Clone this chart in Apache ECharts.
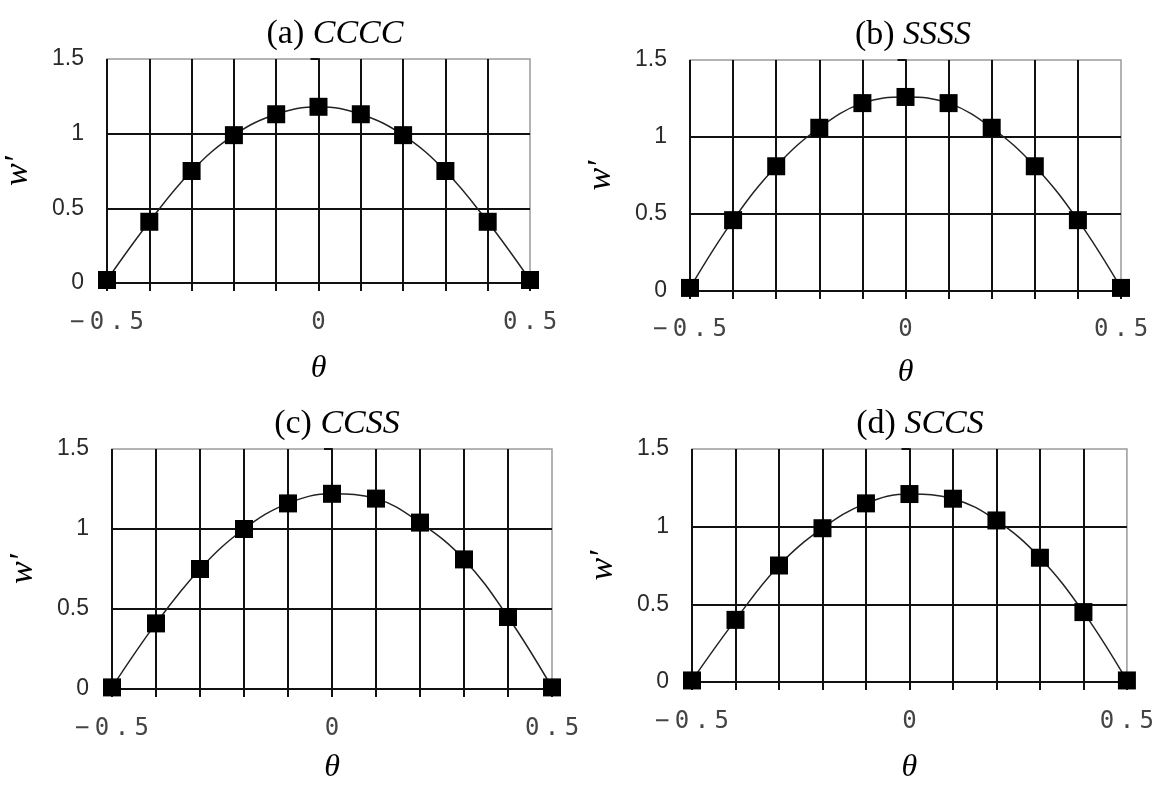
<!DOCTYPE html>
<html>
<head>
<meta charset="utf-8">
<title>w′ versus θ for four boundary conditions</title>
<script src="https://cdn.jsdelivr.net/npm/echarts@6/dist/echarts.min.js"></script>
<style>
  html, body { margin: 0; padding: 0; background: #ffffff; }
  #chart { width: 1157px; height: 785px; }
</style>
</head>
<body>
<div id="chart"></div>
<script>
// Sample positions θ shared by all four panels
const theta = [-0.5, -0.4, -0.3, -0.2, -0.1, 0, 0.1, 0.2, 0.3, 0.4, 0.5];

// w′ at each θ, one list per boundary-condition case
const wCCCC = [0.02, 0.41, 0.75, 0.99, 1.13, 1.18, 1.13, 0.99, 0.75, 0.41, 0.02];
const wSSSS = [0.02, 0.46, 0.81, 1.06, 1.22, 1.26, 1.22, 1.06, 0.81, 0.46, 0.02];
const wCCSS = [0.01, 0.41, 0.75, 1.00, 1.16, 1.22, 1.19, 1.04, 0.81, 0.45, 0.01];
const wSCCS = [0.01, 0.40, 0.75, 0.99, 1.15, 1.21, 1.18, 1.04, 0.80, 0.45, 0.01];

// Panel captions
const panelTags = ['(a)', '(b)', '(c)', '(d)'];
const panelCodes = ['CCCC', 'SSSS', 'CCSS', 'SCCS'];
const panelValues = [wCCCC, wSSSS, wCCSS, wSCCS];

// Which θ ticks carry a label
const xLabelValues = [-0.5, 0, 0.5];

// Plot rectangles, caption centre x and axis-name gaps for each panel
const layout = [
  { left: 107, top: 59, width: 423, height: 224, titleX: 330, thetaGap: 70, labelGap: 28 },
  { left: 690, top: 60, width: 431, height: 231, titleX: 908, thetaGap: 66, labelGap: 27 },
  { left: 112, top: 449, width: 440, height: 241, titleX: 332, thetaGap: 63, labelGap: 28 },
  { left: 692, top: 449, width: 444, height: 236, titleX: 915, thetaGap: 70, labelGap: 28 }
];

const INK = '#111111';

function xLabel(v) {
  const hit = xLabelValues.find(t => Math.abs(t - v) < 1e-9);
  if (hit === undefined) return '';
  const s = (hit < 0 ? '\u2212' : '') + String(Math.abs(hit));
  // spread the characters like a typewriter-style label
  return s.split('').map(ch => '{d|' + ch + '}').join('{g| }');
}

const grids = [], xAxes = [], yAxes = [], series = [], titles = [];

layout.forEach((p, i) => {
  grids.push({
    left: p.left, top: p.top, width: p.width, height: p.height,
    show: true, borderColor: '#9a9a9a', borderWidth: 1.5,
    backgroundColor: 'transparent'
  });

  xAxes.push({
    gridIndex: i, type: 'value', min: -0.5, max: 0.5, interval: 0.1,
    name: 'θ', nameLocation: 'middle', nameGap: p.thetaGap,
    nameTextStyle: { fontFamily: 'Liberation Serif', fontStyle: 'italic', fontSize: 32, color: '#000' },
    axisLine: { show: true, onZero: false, lineStyle: { color: INK, width: 2 } },
    axisTick: { show: true, length: 8, lineStyle: { color: INK, width: 2 } },
    splitLine: { show: true, showMaxLine: false, lineStyle: { color: INK, width: 2 } },
    axisLabel: {
      margin: p.labelGap, formatter: xLabel, showMinLabel: true, showMaxLabel: true,
      rich: {
        d: { fontFamily: 'DejaVu Sans Mono', fontSize: 24, color: '#444' },
        g: { fontFamily: 'DejaVu Sans Mono', fontSize: 9 }
      }
    }
  });

  yAxes.push({
    gridIndex: i, type: 'value', min: 0, max: 1.5, interval: 0.5,
    name: 'w\u2032', nameLocation: 'middle', nameGap: 72,
    nameTextStyle: { fontFamily: 'Liberation Serif', fontStyle: 'italic', fontSize: 34, color: '#000' },
    axisLine: { show: true, lineStyle: { color: INK, width: 2 } },
    axisTick: { show: true, length: 8, lineStyle: { color: INK, width: 2 } },
    splitLine: { show: true, showMaxLine: false, lineStyle: { color: INK, width: 2 } },
    axisLabel: { margin: 23, fontFamily: 'Liberation Sans', fontSize: 23, color: '#2a2a2a' }
  });

  series.push({
    type: 'line', xAxisIndex: i, yAxisIndex: i,
    data: theta.map((t, k) => [t, panelValues[i][k]]),
    smooth: 0.4, clip: false,
    symbol: 'rect', symbolSize: 18, showAllSymbol: true,
    itemStyle: { color: '#000' },
    lineStyle: { color: '#222', width: 1.5 },
    z: 3
  });

  titles.push({
    text: '{t|' + panelTags[i] + '} {c|' + panelCodes[i] + '}',
    left: p.titleX, top: p.top - 47, textAlign: 'center',
    textStyle: {
      fontFamily: 'Liberation Serif', fontSize: 34, fontWeight: 'normal', color: '#000',
      rich: {
        t: { fontFamily: 'Liberation Serif', fontSize: 34, color: '#000' },
        c: { fontFamily: 'Liberation Serif', fontStyle: 'italic', fontSize: 34, color: '#000' }
      }
    }
  });
});

const chart = echarts.init(document.getElementById('chart'), null, { renderer: 'canvas' });
chart.setOption({
  animation: false,
  backgroundColor: '#ffffff',
  title: titles,
  grid: grids,
  xAxis: xAxes,
  yAxis: yAxes,
  series: series
});
</script>
</body>
</html>
